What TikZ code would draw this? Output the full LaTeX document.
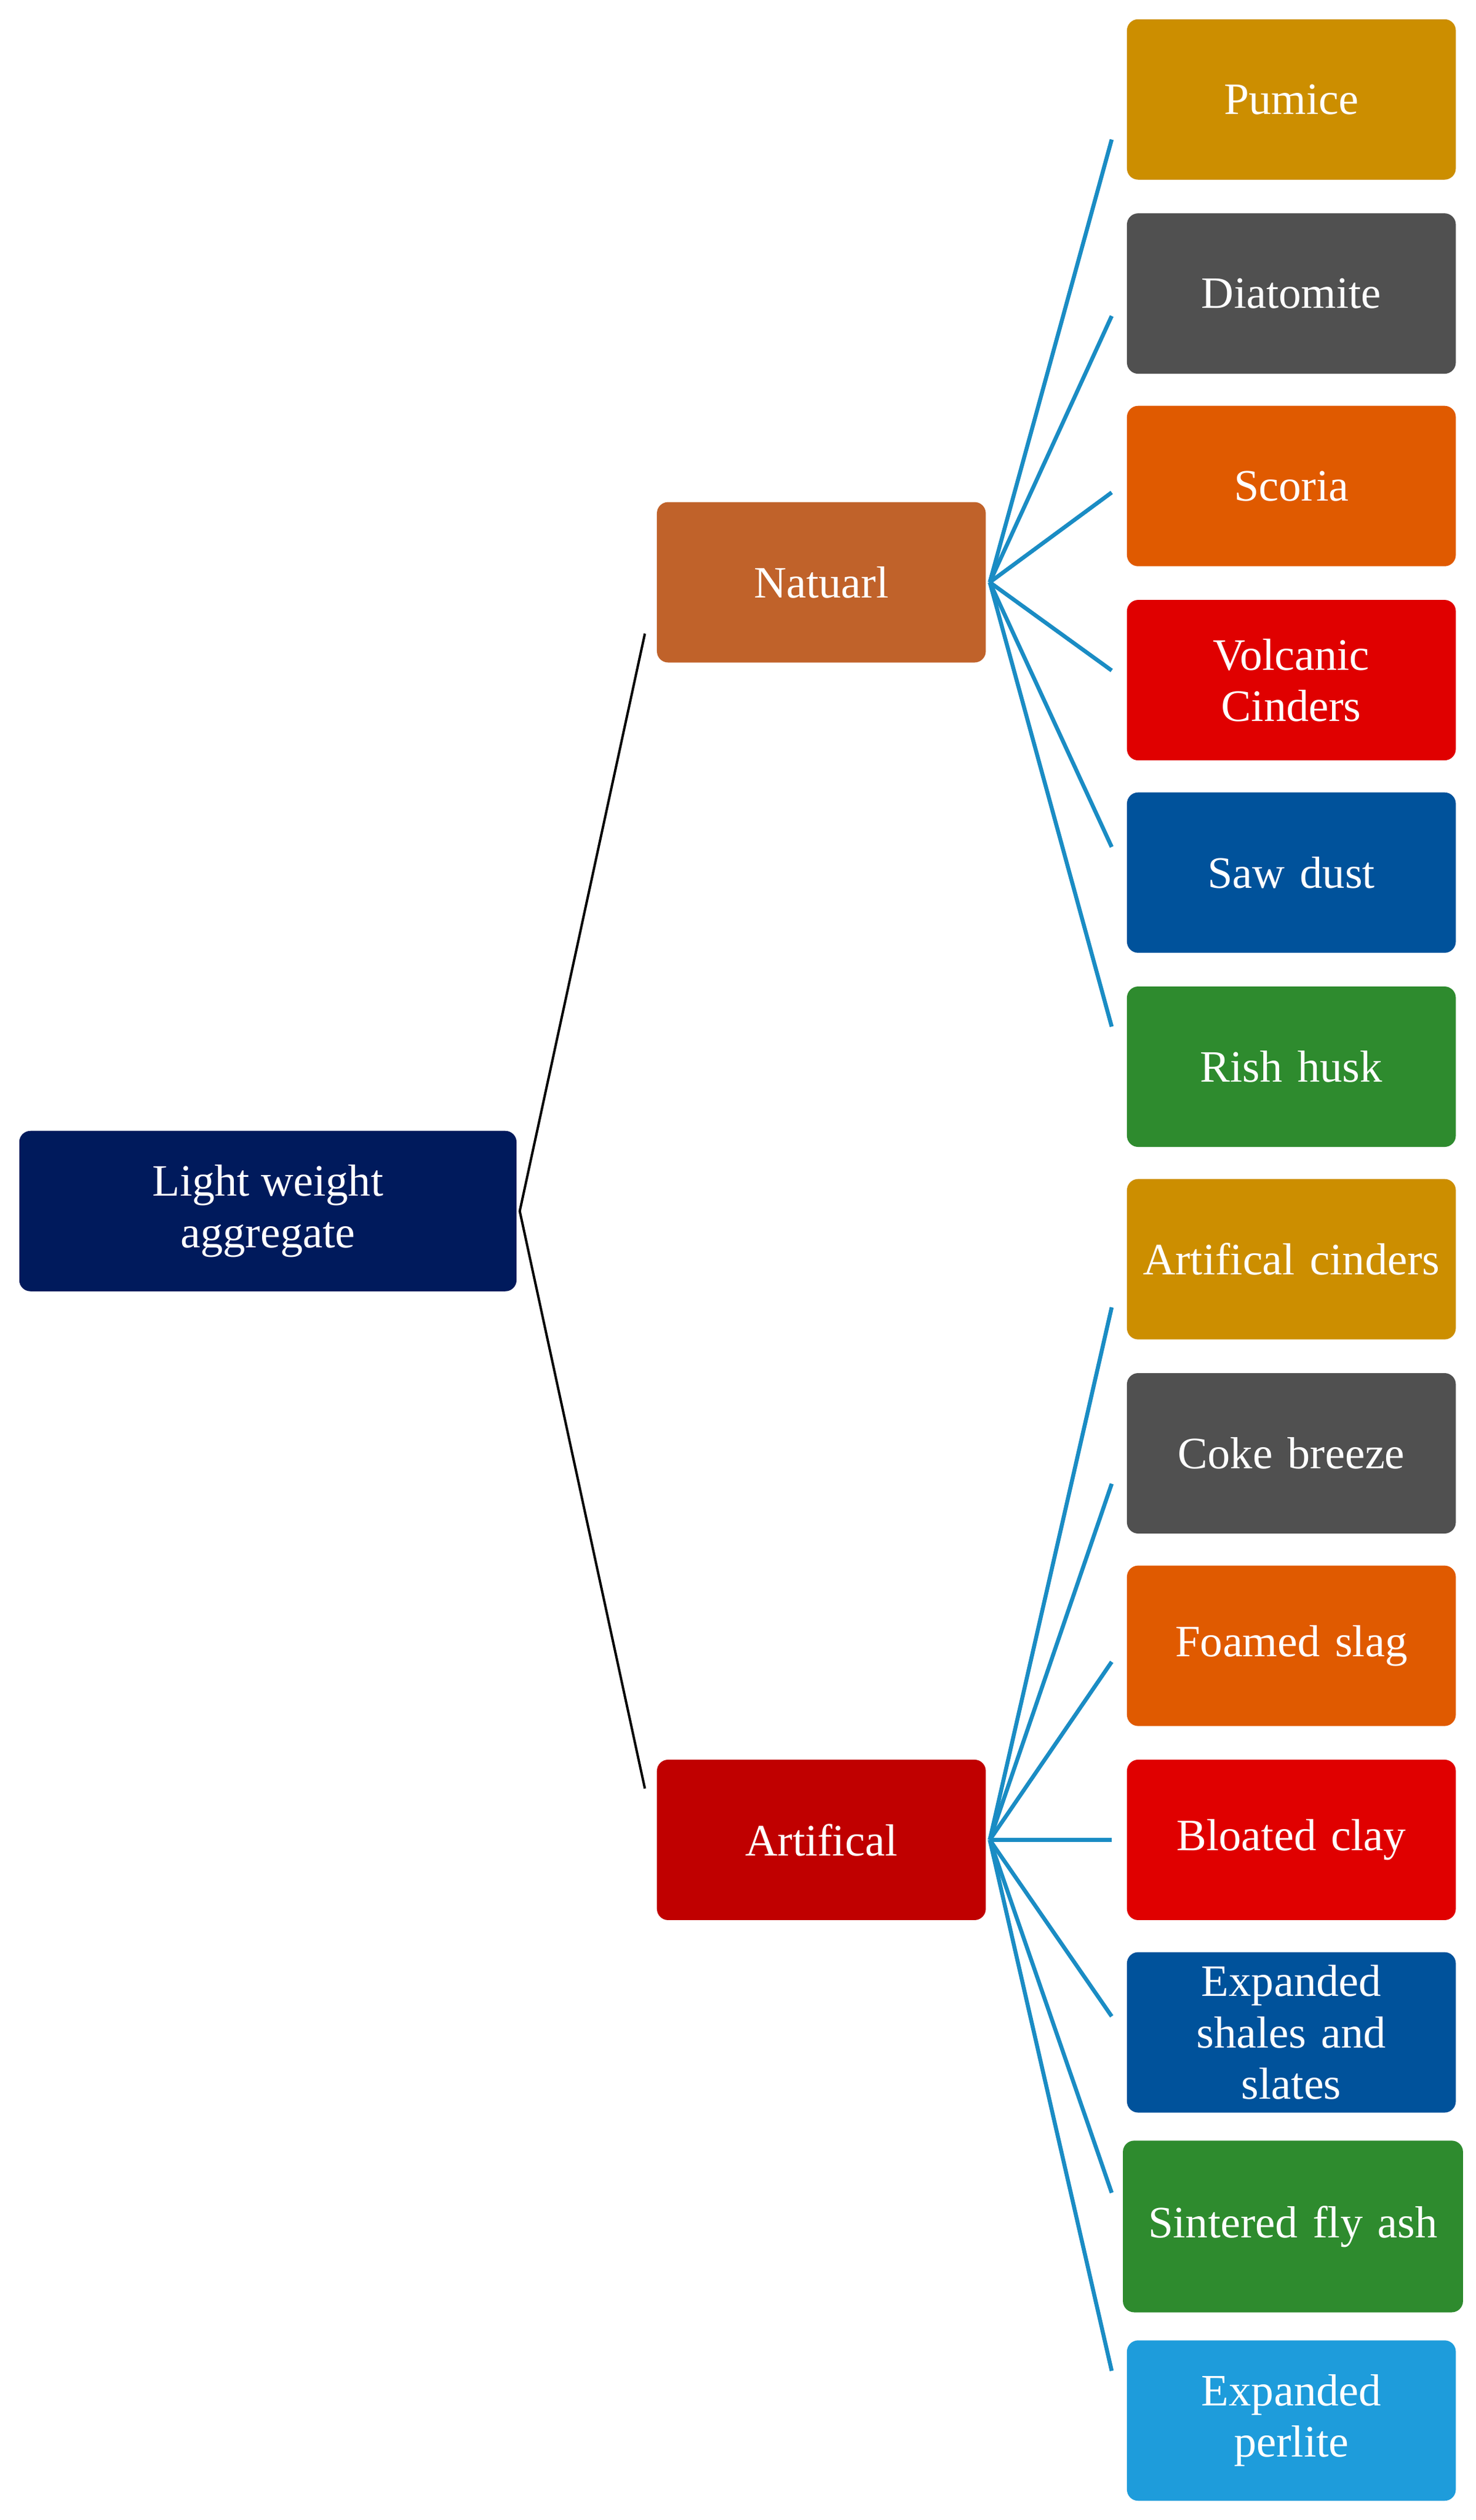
\documentclass[tikz,border=0pt]{standalone}
\usepackage{fontspec}
\setmainfont{Liberation Serif}
\definecolor{cnavy}{HTML}{001A5C}
\definecolor{cbrown}{HTML}{C0622A}
\definecolor{cdred}{HTML}{C00000}
\definecolor{cgold}{HTML}{CC8E00}
\definecolor{cgray}{HTML}{505050}
\definecolor{corange}{HTML}{E05A00}
\definecolor{cred}{HTML}{E00000}
\definecolor{cblue}{HTML}{00529B}
\definecolor{cgreen}{HTML}{2E8B2E}
\definecolor{clblue}{HTML}{1E9CDB}
\definecolor{cline}{HTML}{1A8CC4}
\begin{document}
\begin{tikzpicture}[x=1pt,y=-1pt,
  box/.style={rounded corners=7pt,text=white,align=center,inner sep=0pt,
    font=\fontsize{28}{32}\selectfont},
  leaf/.style={box,minimum width=205pt,minimum height=100pt,text width=200pt},
  mid/.style={box,minimum width=205pt,minimum height=100pt},
  bl/.style={cline,line width=2.5pt},
  kl/.style={black,line width=1.5pt}]
\useasboundingbox (0,0) rectangle (920,1571);
\node[box,fill=cnavy,minimum width=310pt,minimum height=100pt] (root) at (167,755) {Light weight\\aggregate};
\node[mid,fill=cbrown] (nat) at (512,363) {Natuarl};
\node[mid,fill=cdred] (art) at (512,1147) {Artifical};
\node[leaf,fill=cgold] (l1) at (805,62) {Pumice};
\node[leaf,fill=cgray] (l2) at (805,183) {Diatomite};
\node[leaf,fill=corange] (l3) at (805,303) {Scoria};
\node[leaf,fill=cred] (l4) at (805,424) {Volcanic\\Cinders};
\node[leaf,fill=cblue] (l5) at (805,544) {Saw dust};
\node[leaf,fill=cgreen] (l6) at (805,665) {Rish husk};
\node[leaf,fill=cgold] (a1) at (805,785) {Artifical cinders};
\node[leaf,fill=cgray] (a2) at (805,906) {Coke breeze};
\node[leaf,fill=corange] (a3) at (805,1026) {Foamed slag};
\node[leaf,fill=cred] (a4) at (805,1147) {Bloated clay};
\node[leaf,fill=cblue] (a5) at (805,1267) {Expanded\\shales and\\slates};
\node[leaf,fill=cgreen,minimum width=212pt,minimum height=107pt] (a6) at (806,1388) {Sintered fly ash};
\node[leaf,fill=clblue] (a7) at (805,1509) {Expanded\\perlite};
\coordinate (rs) at (324,755);
\coordinate (ne) at (402,395);
\coordinate (ae) at (402,1115);
\draw[kl] (ne) -- (rs) -- (ae);
\coordinate (ns) at (617,363);
\coordinate (as) at (617,1147);
\foreach \y [count=\i] in {87,197,307,418,528,640}
  {\coordinate (n\i) at (693,\y); \draw[bl] (ns) -- (n\i);}
\foreach \y [count=\i] in {815,925,1036,1147,1257,1367,1478}
  {\coordinate (m\i) at (693,\y); \draw[bl] (as) -- (m\i);}
\end{tikzpicture}
\end{document}
